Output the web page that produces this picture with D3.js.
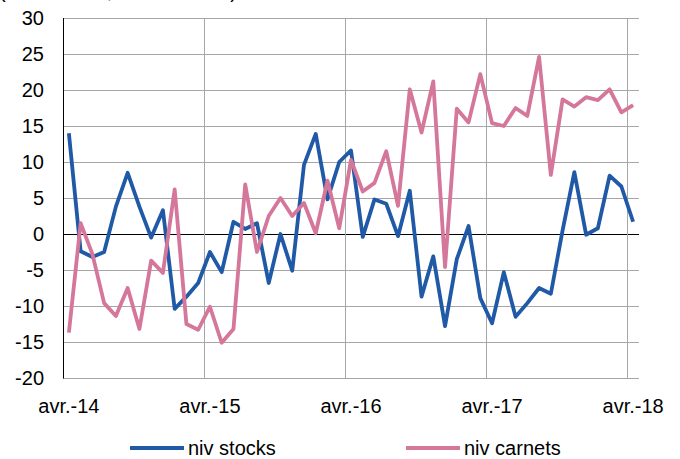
<!DOCTYPE html>
<html>
<head>
<meta charset="utf-8">
<script src="https://cdn.jsdelivr.net/npm/d3@7"></script>
<style>
  body { margin: 0; background: #fff; }
  text { font-family: "Liberation Sans", Arial, sans-serif; fill: #000; }
</style>
</head>
<body>
<div id="chart"></div>
<script>
var width = 680;
var height = 459;

// months avr.-14 .. avr.-18
var months = d3.range(49).map(function(i){ return i; });
var tickLabels = ['avr.-14', 'avr.-15', 'avr.-16', 'avr.-17', 'avr.-18'];
var yTicks = [30, 25, 20, 15, 10, 5, 0, -5, -10, -15, -20];

var nivStocks = [14, -2.4, -3.2, -2.5, 3.8, 8.5, 3.8, -0.5, 3.3, -10.4, -8.7, -6.8,
  -2.5, -5.3, 1.7, 0.7, 1.5, -6.8, 0, -5.1, 9.6, 13.9, 4.8, 10,
  11.6, -0.4, 4.8, 4.2, -0.3, 6, -8.7, -3.1, -12.8, -3.5, 1.1, -8.9,
  -12.4, -5.3, -11.5, -9.6, -7.5, -8.3, 0.5, 8.6, -0.1, 0.8, 8.1, 6.6,
  1.7];
var nivCarnets = [-13.7, 1.5, -2.8, -9.6, -11.4, -7.5, -13.2, -3.7, -5.4, 6.2, -12.5, -13.3,
  -10.1, -15.1, -13.2, 6.9, -2.5, 2.5, 5, 2.5, 4.3, 0.1, 7.4, 0.8,
  10.3, 5.9, 7.1, 11.5, 3.9, 20.1, 14.1, 21.2, -4.6, 17.4, 15.5, 22.2,
  15.4, 15, 17.5, 16.4, 24.6, 8.2, 18.7, 17.7, 19, 18.6, 20.1, 16.9,
  17.9];

var seriesNames = ['niv stocks', 'niv carnets'];
var colors = ['#2059a6', '#d5769b'];

var plotLeft = 63, plotRight = 639, plotTop = 18, plotBottom = 378;

var svg = d3.select('#chart').append('svg')
  .attr('width', width).attr('height', height);

var x = d3.scaleBand().domain(months).range([plotLeft, plotRight]);
var y = d3.scaleLinear().domain([-20, 30]).range([plotBottom, plotTop]);
var cx = function(i){ return x(i) + x.bandwidth() / 2; };

// cut-off subtitle at the very top
svg.append('text')
  .attr('x', -1).attr('y', -2)
  .attr('font-size', 20)
  .text("(soldes nets, données cvs)");

// horizontal gridlines
svg.append('g').selectAll('line')
  .data(yTicks)
  .enter().append('line')
  .attr('x1', plotLeft).attr('x2', plotRight)
  .attr('y1', function(d){ return Math.round(y(d)) + 0.5; })
  .attr('y2', function(d){ return Math.round(y(d)) + 0.5; })
  .attr('stroke', function(d){ return d === 0 ? '#000' : '#a6a6a6'; })
  .attr('stroke-width', 1);

// vertical gridlines at each year boundary
svg.append('g').selectAll('line')
  .data([12, 24, 36, 48])
  .enter().append('line')
  .attr('x1', function(d){ return Math.round(x(d)) + 0.5; })
  .attr('x2', function(d){ return Math.round(x(d)) + 0.5; })
  .attr('y1', plotTop).attr('y2', plotBottom)
  .attr('stroke', '#a6a6a6');

// left axis
svg.append('line')
  .attr('x1', plotLeft + 0.5).attr('x2', plotLeft + 0.5)
  .attr('y1', plotTop).attr('y2', plotBottom + 0.5)
  .attr('stroke', '#000');

// y tick labels
svg.append('g').selectAll('text')
  .data(yTicks)
  .enter().append('text')
  .attr('x', 44)
  .attr('y', function(d){ return y(d) + 7; })
  .attr('text-anchor', 'end')
  .attr('font-size', 20)
  .text(function(d){ return d; });

// x tick labels
svg.append('g').selectAll('text')
  .data(tickLabels)
  .enter().append('text')
  .attr('x', function(d, i){ return cx(i * 12); })
  .attr('y', 413)
  .attr('text-anchor', 'middle')
  .attr('font-size', 20)
  .text(function(d){ return d; });

// lines
var line = d3.line()
  .x(function(d, i){ return cx(i); })
  .y(function(d){ return y(d); });

[nivStocks, nivCarnets].forEach(function(s, k){
  svg.append('path')
    .datum(s)
    .attr('d', line)
    .attr('fill', 'none')
    .attr('stroke', colors[k])
    .attr('stroke-width', 3.8)
    .attr('stroke-linejoin', 'round');
});

// legend
var legendX = [130, 406];
var legend = svg.append('g').selectAll('g')
  .data(seriesNames)
  .enter().append('g')
  .attr('transform', function(d, i){ return 'translate(' + legendX[i] + ',448)'; });
legend.append('line')
  .attr('x1', 0).attr('x2', 54)
  .attr('stroke', function(d, i){ return colors[i]; })
  .attr('stroke-width', 3.8);
legend.append('text')
  .attr('x', 58).attr('y', 7)
  .attr('font-size', 20)
  .text(function(d){ return d; });
</script>
</body>
</html>
